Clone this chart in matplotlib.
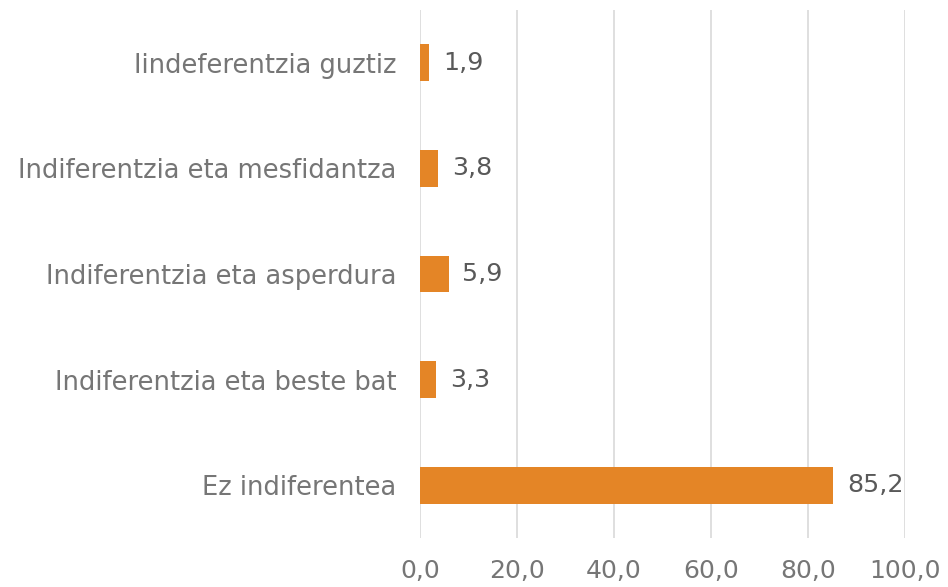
import matplotlib.pyplot as plt

# categories from top to bottom
categories = ['Iindeferentzia guztiz', 'Indiferentzia eta mesfidantza',
              'Indiferentzia eta asperdura', 'Indiferentzia eta beste bat',
              'Ez indiferentea']
values = [1.9, 3.8, 5.9, 3.3, 85.2]
xticks = [0, 20, 40, 60, 80, 100]

plt.rcParams['font.family'] = ['DejaVu Sans']

fig = plt.figure(figsize=(9.48, 5.87), dpi=100)
ax = fig.add_axes([0.443, 0.0835, 0.5117, 0.8995])

pos = list(range(len(categories)))[::-1]
bars = ax.barh(pos, values, height=0.35, color='#E48526', zorder=3)

for b, v in zip(bars, values):
    ax.annotate(f'{v:.1f}'.replace('.', ','), (b.get_width(), b.get_y() + b.get_height() / 2),
                xytext=(10, 0), textcoords='offset points', va='center', ha='left',
                fontsize=18.3, color='#595959')

ax.set_yticks(pos)
ax.set_yticklabels(categories, fontsize=18.5, color='#767676')
ax.set_xticks(xticks)
ax.set_xticklabels([f'{t:.1f}'.replace('.', ',') for t in xticks], fontsize=18, color='#767676')
ax.set_xlim(0, 100)
ax.set_ylim(-0.5, 4.5)
ax.grid(axis='x', color='#D9D9D9', linewidth=1.2, zorder=0)
ax.tick_params(length=0)
ax.tick_params(axis='x', pad=15)
ax.tick_params(axis='y', pad=17)
for s in ax.spines.values():
    s.set_visible(False)

fig.savefig('out.png', dpi=100)
